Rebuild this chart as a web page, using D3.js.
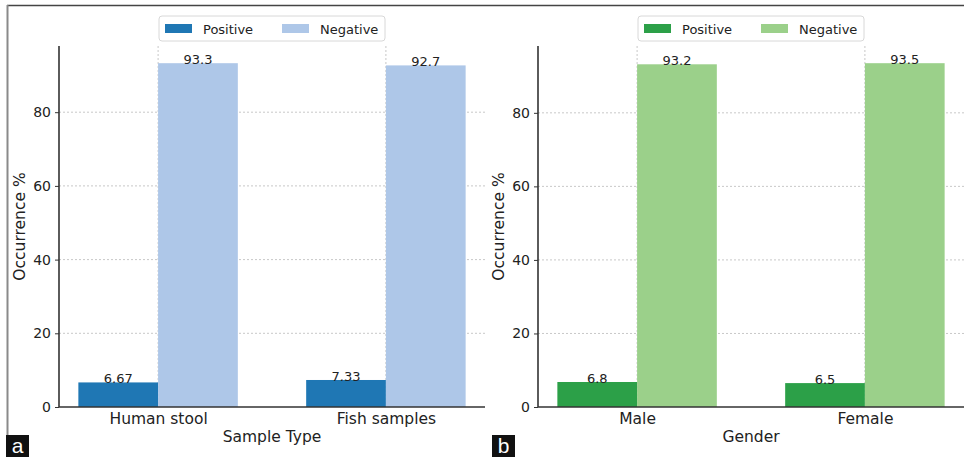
<!DOCTYPE html>
<html>
<head>
<meta charset="utf-8">
<script src="https://cdn.jsdelivr.net/npm/d3@7"></script>
<style>
  body { margin: 0; background: #fff; }
  svg { display: block; font-family: "DejaVu Sans", sans-serif; }
</style>
</head>
<body>
<div id="chart"></div>
<script>
// data
const seriesNames = ["Positive", "Negative"];
const yTickValues = [0, 20, 40, 60, 80];

const sampleCategories = ["Human stool", "Fish samples"];
const samplePositive = [6.67, 7.33];
const sampleNegative = [93.3, 92.7];
const sampleLabels = [["6.67", "7.33"], ["93.3", "92.7"]];

const genderCategories = ["Male", "Female"];
const genderPositive = [6.8, 6.5];
const genderNegative = [93.2, 93.5];
const genderLabels = [["6.8", "6.5"], ["93.2", "93.5"]];

const W = 964, H = 457;
const barW = 0.35;

const svg = d3.select("#chart").append("svg")
  .attr("width", W)
  .attr("height", H);

// figure frame (top + left edge only, as in the scan)
svg.append("line").attr("x1", 7).attr("x2", W).attr("y1", 5.5).attr("y2", 5.5)
  .attr("stroke", "#444").attr("stroke-width", 1.5);
svg.append("line").attr("x1", 7.5).attr("x2", 7.5).attr("y1", 5).attr("y2", 437)
  .attr("stroke", "#8a8a8a").attr("stroke-width", 2);

function drawPanel(opts) {
  const { left, right, categories, positive, negative, labels, colors, xTitle, tag, tagX } = opts;
  const top = 46, bottom = 407;
  const g = svg.append("g");

  const x = d3.scaleLinear().domain([-0.435, categories.length - 1 + 0.435]).range([left, right]);
  const yMax = d3.max(positive.concat(negative)) * 1.05;
  const y = d3.scaleLinear().domain([0, yMax]).range([bottom, top]);

  // horizontal grid
  g.append("g").selectAll("line")
    .data(yTickValues.filter(d => d > 0))
    .join("line")
    .attr("x1", left).attr("x2", right)
    .attr("y1", d => y(d)).attr("y2", d => y(d))
    .attr("stroke", "#c8c8c8").attr("stroke-width", 1)
    .attr("stroke-dasharray", "2,2");

  // vertical grid at category centers
  g.append("g").selectAll("line")
    .data(categories)
    .join("line")
    .attr("x1", (d, i) => x(i)).attr("x2", (d, i) => x(i))
    .attr("y1", top).attr("y2", bottom)
    .attr("stroke", "#c8c8c8").attr("stroke-width", 1)
    .attr("stroke-dasharray", "2,2");

  const series = [positive, negative];
  series.forEach((vals, s) => {
    const off = s === 0 ? -barW : 0;
    g.append("g").selectAll("rect")
      .data(vals)
      .join("rect")
      .attr("x", (d, i) => x(i + off))
      .attr("width", (d, i) => x(i + off + barW) - x(i + off))
      .attr("y", d => y(d))
      .attr("height", d => bottom - y(d))
      .attr("fill", colors[s]);

    g.append("g").selectAll("text")
      .data(vals)
      .join("text")
      .attr("x", (d, i) => x(i + off + barW / 2))
      .attr("y", d => y(d) + 1)
      .attr("text-anchor", "middle")
      .attr("font-size", 13)
      .attr("fill", "#222")
      .text((d, i) => labels[s][i]);
  });

  // y axis
  const yAxis = g.append("g")
    .attr("transform", `translate(${left},0)`)
    .call(d3.axisLeft(y).tickValues(yTickValues).tickSize(4).tickPadding(4).tickFormat(d3.format("d")));
  yAxis.select(".domain").attr("d", `M0,${top}V${bottom}`).attr("stroke", "#333").attr("stroke-width", 1.6);
  yAxis.selectAll(".tick line").attr("stroke", "#333");
  yAxis.selectAll(".tick text").attr("font-size", 14).attr("fill", "#222")
    .attr("font-family", "DejaVu Sans, sans-serif");

  // x axis
  const xAxis = g.append("g")
    .attr("transform", `translate(0,${bottom})`)
    .call(d3.axisBottom(x).tickValues(d3.range(categories.length)).tickSize(0).tickPadding(6)
      .tickFormat(i => categories[i]));
  xAxis.select(".domain").attr("d", `M${left},0H${right}`).attr("stroke", "#333").attr("stroke-width", 1.6);
  xAxis.selectAll(".tick text").attr("font-size", 15.5).attr("fill", "#222")
    .attr("font-family", "DejaVu Sans, sans-serif");

  // axis titles
  g.append("text")
    .attr("transform", `translate(${left - 34},${(top + bottom) / 2}) rotate(-90)`)
    .attr("text-anchor", "middle")
    .attr("font-size", 15.5).attr("fill", "#222")
    .text("Occurrence %");
  g.append("text")
    .attr("x", (left + right) / 2).attr("y", 442)
    .attr("text-anchor", "middle")
    .attr("font-size", 15.5).attr("fill", "#222")
    .text(xTitle);

  // legend
  const cx = (left + right) / 2;
  const lg = g.append("g").attr("transform", `translate(${cx - 113},16)`);
  lg.append("rect").attr("width", 226).attr("height", 25).attr("rx", 3)
    .attr("fill", "#fff").attr("stroke", "#d8d8d8");
  seriesNames.forEach((name, s) => {
    const ox = s === 0 ? 6 : 123;
    lg.append("rect").attr("x", ox).attr("y", 8).attr("width", 27).attr("height", 9)
      .attr("fill", colors[s]);
    lg.append("text").attr("x", ox + 38).attr("y", 17.5)
      .attr("font-size", 13).attr("fill", "#222").text(name);
  });

  // panel tag
  svg.append("rect").attr("x", tagX).attr("y", 435).attr("width", 23).attr("height", 22).attr("fill", "#111");
  svg.append("text").attr("x", tagX + 11.5).attr("y", 453)
    .attr("text-anchor", "middle").attr("font-family", "Liberation Sans, Arial, sans-serif")
    .attr("font-size", 21).attr("fill", "#fff").text(tag);
}

drawPanel({
  left: 59, right: 485,
  categories: sampleCategories, positive: samplePositive, negative: sampleNegative, labels: sampleLabels,
  colors: ["#1f77b4", "#aec7e8"], xTitle: "Sample Type", tag: "a", tagX: 6
});

drawPanel({
  left: 538, right: 964,
  categories: genderCategories, positive: genderPositive, negative: genderNegative, labels: genderLabels,
  colors: ["#2ca048", "#9bd08a"], xTitle: "Gender", tag: "b", tagX: 492
});
</script>
</body>
</html>
